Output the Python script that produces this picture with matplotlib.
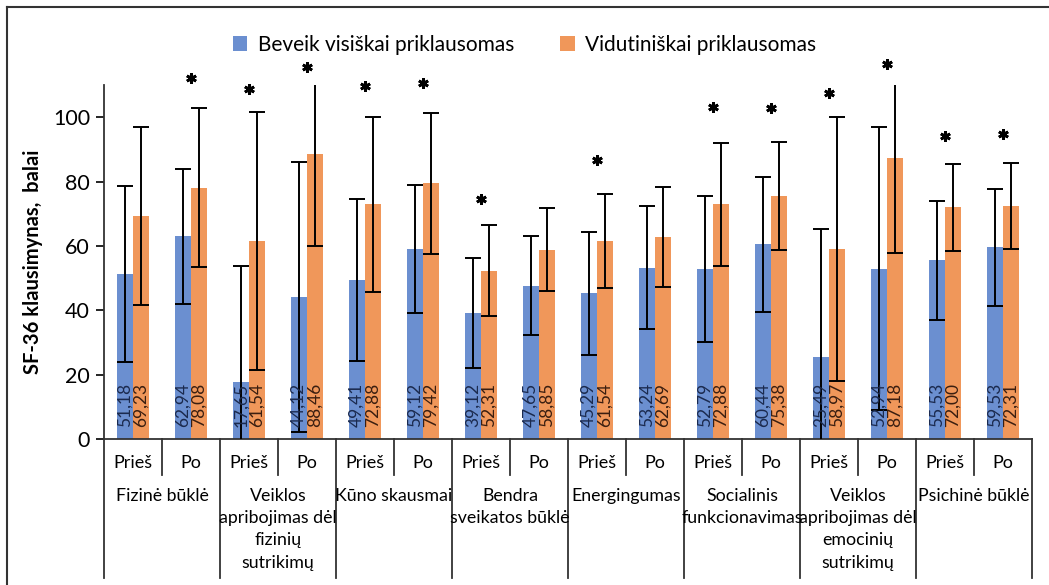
import matplotlib.pyplot as plt
import numpy as np
from matplotlib.lines import Line2D
from matplotlib.transforms import blended_transform_factory

plt.rcParams['font.family'] = ['Lato', 'DejaVu Sans']

categories = ['Fizinė būklė', 'Veiklos\napribojimas dėl\nfizinių\nsutrikimų',
              'Kūno skausmai', 'Bendra\nsveikatos būklė', 'Energingumas',
              'Socialinis\nfunkcionavimas',
              'Veiklos\napribojimas dėl\nemocinių\nsutrikimų', 'Psichinė būklė']
periods = ['Prieš', 'Po']

blue_vals = [51.18, 62.94, 17.65, 44.12, 49.41, 59.12, 39.12, 47.65,
             45.29, 53.24, 52.79, 60.44, 25.49, 52.94, 55.53, 59.53]
orange_vals = [69.23, 78.08, 61.54, 88.46, 72.88, 79.42, 52.31, 58.85,
               61.54, 62.69, 72.88, 75.38, 58.97, 87.18, 72.00, 72.31]
blue_sd = [27.3, 21.0, 36.0, 42.1, 25.3, 19.9, 17.0, 15.3,
           19.1, 19.2, 22.8, 21.0, 39.9, 44.0, 18.5, 18.2]
orange_sd = [27.6, 24.7, 40.2, 28.5, 27.2, 21.8, 14.2, 12.8,
             14.6, 15.6, 19.2, 16.8, 41.0, 29.3, 13.6, 13.4]
# height of the significance mark, None where there is none
star_y = [None, 112.1, 108.9, 115.5, 109.6, 110.6, 74.5, None,
          86.6, None, 103.2, 102.7, 107.5, 116.5, 94.2, 94.7]

blue = '#6B8FD0'
orange = '#F0975A'

fig = plt.figure(figsize=(10.49, 5.85), dpi=100)
ax = fig.add_axes([104 / 1049, 1 - 439 / 585, 928 / 1049, 354 / 585])

x = np.arange(len(blue_vals))
w = 0.28
ax.bar(x - w / 2, blue_vals, w, color=blue, label='Beveik visiškai priklausomas', zorder=2)
ax.bar(x + w / 2, orange_vals, w, color=orange, label='Vidutiniškai priklausomas', zorder=2)
ax.errorbar(x - w / 2, blue_vals, yerr=blue_sd, fmt='none', ecolor='black',
            elinewidth=1.4, capsize=6, capthick=1.4, zorder=3)
ax.errorbar(x + w / 2, orange_vals, yerr=orange_sd, fmt='none', ecolor='black',
            elinewidth=1.4, capsize=6, capthick=1.4, zorder=3)

for i in x:
    ax.text(i - w / 2, 3.6, f'{blue_vals[i]:.2f}'.replace('.', ','), rotation=90,
            ha='center', va='bottom', fontsize=12.5, color='#1B2A4E', zorder=4)
    ax.text(i + w / 2, 3.6, f'{orange_vals[i]:.2f}'.replace('.', ','), rotation=90,
            ha='center', va='bottom', fontsize=12.5, color='#3A1E10', zorder=4)

# significance marks
sx = [i for i in x if star_y[i] is not None]
sy = [star_y[i] for i in sx]
ax.plot(sx, sy, linestyle='none', marker=(6, 2, 0), markersize=7.5, mew=2.0,
        color='black', clip_on=False, zorder=5)

ax.set_xlim(-0.5, len(x) - 0.5)
ax.set_ylim(0, 110)
ax.set_yticks(range(0, 101, 20))
ax.tick_params(axis='y', direction='out', length=6, width=1.2, labelsize=15.5, pad=4)
ax.tick_params(axis='x', length=0, labelbottom=False)
for s in ['top', 'right']:
    ax.spines[s].set_visible(False)
for s in ['left', 'bottom']:
    ax.spines[s].set_color('#333333')
    ax.spines[s].set_linewidth(1.3)
ax.set_ylabel('SF-36 klausimynas,  balai', fontsize=14.5, fontweight='bold', labelpad=7)

# two-level category axis
trans = blended_transform_factory(ax.transData, ax.transAxes)
for b in range(len(x) + 1):
    xb = b - 0.5
    bottom = -0.3927 if b % 2 == 0 else -0.1017
    ax.add_line(Line2D([xb, xb], [0, bottom], transform=trans, color='#333333',
                       lw=1.3, clip_on=False))
for i in x:
    ax.text(i, -0.068, periods[i % 2], transform=trans, ha='center', va='center',
            fontsize=13)
for k, cat in enumerate(categories):
    ax.text(2 * k + 0.5, -0.138, cat, transform=trans, ha='center', va='top',
            fontsize=12.8, linespacing=1.48)

ax.legend(loc='upper center', bbox_to_anchor=(0.453, 1.195), ncol=2, frameon=False,
          fontsize=15, handlelength=0.7, handleheight=0.7, columnspacing=2.2,
          handletextpad=0.5)

# outer frame
fig.add_artist(Line2D([7 / 1049, 7 / 1049], [0, 1 - 7 / 585], color='#333333', lw=1.5))
fig.add_artist(Line2D([7 / 1049, 1], [1 - 7 / 585, 1 - 7 / 585], color='#333333', lw=1.5))

fig.savefig('out.png', dpi=100)
